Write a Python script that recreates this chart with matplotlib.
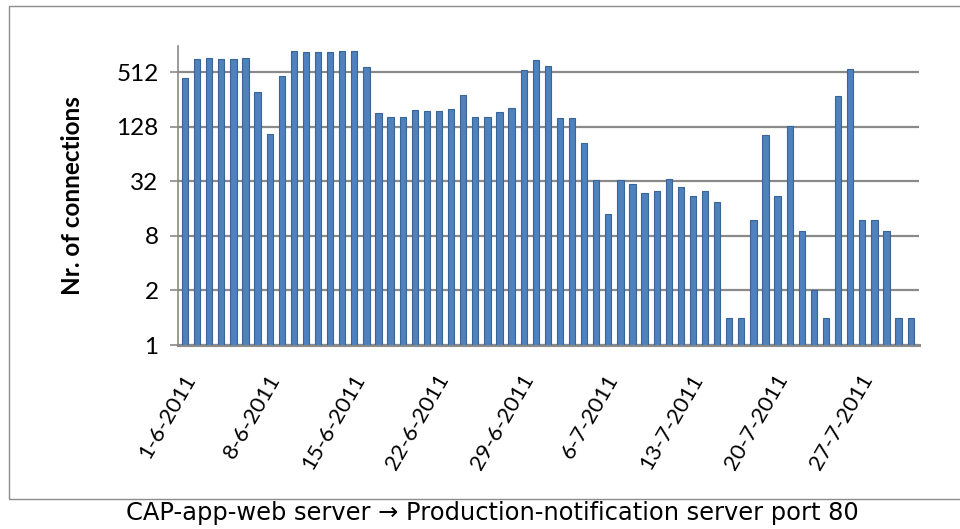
import matplotlib
matplotlib.use("Agg")
import matplotlib.pyplot as plt
from matplotlib.patches import Rectangle

# connections per day, 1-6-2011 .. 31-7-2011
connections = [443, 720, 735, 724, 724, 742, 309, 107, 463, 873,
               866, 866, 866, 873, 873, 582, 180, 165, 165, 196,
               192, 192, 203, 288, 165, 165, 187, 205, 547, 705,
               606, 162, 162, 86, 33, 14, 33, 30, 24, 25,
               34, 28, 22, 25, 19, 1, 1, 12, 104, 22,
               130, 9, 2, 1, 284, 563, 12, 12, 9, 1, 1]
date_labels = ["1-6-2011", "8-6-2011", "15-6-2011", "22-6-2011", "29-6-2011",
               "6-7-2011", "13-7-2011", "20-7-2011", "27-7-2011"]
label_idx = [0, 7, 14, 21, 28, 35, 42, 49, 56]
y_ticks = [0.5, 2, 8, 32, 128, 512]
y_tick_labels = ["1", "2", "8", "32", "128", "512"]
caption = "CAP-app-web server \u2192 Production-notification server port 80"

W, H = 960, 529
fig = plt.figure(figsize=(W / 100, H / 100), dpi=100)

# chart frame
fig.patches.append(Rectangle((9 / W, 1 - 499 / H), 1.2, (499 - 6) / H,
                             transform=fig.transFigure, fill=False,
                             edgecolor="#8c8c8c", linewidth=1.0))

ax = fig.add_axes([178 / W, 1 - 345 / H, (919 - 178) / W, (345 - 46) / H])
x = list(range(len(connections)))

ax.set_yscale("log", base=2)
ax.set_ylim(0.5, 1000)
ax.set_xlim(-0.58, 60.69)

ax.grid(axis="y", color="#8a8a8a", linewidth=1.6, zorder=0)
ax.set_axisbelow(True)

ax.bar(x, connections, width=0.52, color="#4F81BD", edgecolor="#3A6496",
       linewidth=0.8, zorder=3)

ax.set_yticks(y_ticks)
ax.set_yticklabels(y_tick_labels, family="Lato", fontsize=17.5)
ax.minorticks_off()
ax.tick_params(axis="y", direction="out", length=6, width=1.2,
               color="#8a8a8a", pad=8)
ax.set_xticks([])

for s in ["top", "right"]:
    ax.spines[s].set_visible(False)
ax.spines["left"].set_color("#8a8a8a")
ax.spines["left"].set_linewidth(1.2)
ax.spines["bottom"].set_color("#8a8a8a")
ax.spines["bottom"].set_linewidth(2.2)

for i, lab in zip(label_idx, date_labels):
    ax.annotate(lab, xy=(i, 0), xycoords=("data", "axes fraction"),
                xytext=(4, -22), textcoords="offset points",
                rotation=60, rotation_mode="anchor", ha="right", va="center",
                family="Lato", fontsize=16)

fig.text(73 / W, 1 - 196 / H, "Nr. of connections", rotation=90,
         ha="center", va="center", family="Lato", fontweight="bold",
         fontsize=17.5)

fig.text(492 / W, 1 - 513 / H, caption, ha="center", va="center",
         family="DejaVu Sans", fontsize=17.4)

fig.savefig("out.png", dpi=100, facecolor="white")
